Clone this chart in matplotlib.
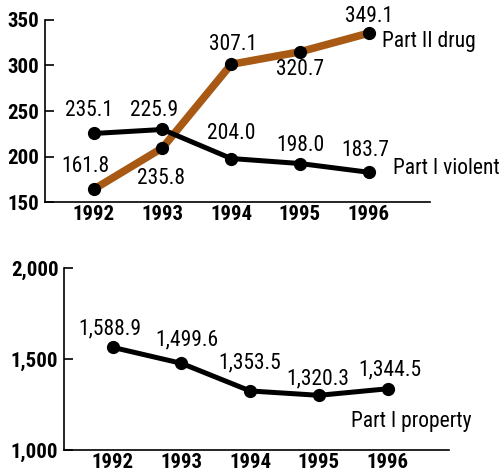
import matplotlib
matplotlib.use("Agg")
import matplotlib.pyplot as plt
from matplotlib import font_manager
from matplotlib.ticker import FuncFormatter

# data
years = [1992, 1993, 1994, 1995, 1996]
drug = [164, 209.5, 301.3, 315, 335.5]
drug_labels = ["161.8", "235.8", "307.1", "320.7", "349.1"]
violent = [225.3, 229.7, 197.8, 192.3, 182.7]
violent_labels = ["235.1", "225.9", "204.0", "198.0", "183.7"]
prop = [1565, 1477, 1325, 1301, 1337]
prop_labels = ["1,588.9", "1,499.6", "1,353.5", "1,320.3", "1,344.5"]

# label offsets in pixels (dx, dy)
drug_off = [(-8, 23), (-1, -31), (2, 20), (0, -18), (0, 17)]
violent_off = [(-5, 23), (-8, 19), (0, 25), (1, 18), (-3, 22)]
prop_off = [(-3, 18), (5, 23), (0, 28), (-1, 16), (2, 19)]

BROWN = "#A85A14"

# pick a narrow face if one is around
installed = {f.name for f in font_manager.fontManager.ttflist}
NARROW = None
for cand in ["Roboto Condensed", "Liberation Sans Narrow", "DejaVu Sans Condensed",
             "Open Sans Condensed", "Liberation Sans"]:
    if cand in installed:
        NARROW = [cand, "DejaVu Sans"]
        break
if NARROW is None:
    NARROW = ["DejaVu Sans"]

LABEL_FS = 15.5

fig = plt.figure(figsize=(5.01, 4.76), dpi=100)


def style_axes(ax, ylim, yticks, fmt):
    ax.set_xlim(1991.29, 1996.89)
    ax.set_ylim(*ylim)
    ax.set_yticks(yticks)
    ax.yaxis.set_major_formatter(FuncFormatter(fmt))
    ax.set_xticks(years)
    for s in ("top", "right"):
        ax.spines[s].set_visible(False)
    for s in ("left", "bottom"):
        ax.spines[s].set_linewidth(1.2)
    ax.tick_params(axis="y", direction="in", length=6.5, width=1.2, pad=4)
    ax.tick_params(axis="x", length=0, pad=2.5)
    for lab in ax.get_yticklabels():
        lab.set_fontfamily(NARROW)
        lab.set_fontweight("bold")
        lab.set_fontsize(15)
    for lab in ax.get_xticklabels():
        lab.set_fontfamily(NARROW)
        lab.set_fontweight("bold")
        lab.set_fontsize(15)


def put_labels(ax, ys, labels, offs):
    for x, y, t, (dx, dy) in zip(years, ys, labels, offs):
        ax.annotate(t, (x, y), xytext=(dx, dy), textcoords="offset pixels",
                    ha="center", va="center", fontsize=LABEL_FS, family=NARROW)


# top panel
ax1 = fig.add_axes([0.0898, 0.5756, 0.768, 0.3824])
ax1.plot(years, violent, color="black", lw=3.6, marker="o", ms=8.5,
         solid_capstyle="round", zorder=3)
ax1.plot(years, drug, color=BROWN, lw=5.5, solid_capstyle="round", zorder=2)
ax1.plot(years, drug, ls="none", marker="o", ms=8.5, color="black", zorder=4)
style_axes(ax1, (150, 350), [150, 200, 250, 300, 350], lambda v, p: "%d" % v)
put_labels(ax1, drug, drug_labels, drug_off)
put_labels(ax1, violent, violent_labels, violent_off)
ax1.annotate("Part II drug", (years[-1], drug[-1]), xytext=(13, -8),
             textcoords="offset pixels", ha="left", va="center",
             fontsize=LABEL_FS, family=NARROW)
ax1.annotate("Part I violent", (years[-1], violent[-1]), xytext=(24, 4),
             textcoords="offset pixels", ha="left", va="center",
             fontsize=LABEL_FS, family=NARROW, annotation_clip=False)

# bottom panel
ax2 = fig.add_axes([0.1277, 0.0546, 0.768, 0.3817])
ax2.plot(years, prop, color="black", lw=3.6, marker="o", ms=8.5,
         solid_capstyle="round")
style_axes(ax2, (1000, 2000), [1000, 1500, 2000],
           lambda v, p: "{:,.0f}".format(v))
put_labels(ax2, prop, prop_labels, prop_off)
ax2.annotate("Part I property", (years[-1], prop[-1]), xytext=(-37, -33),
             textcoords="offset pixels", ha="left", va="center",
             fontsize=LABEL_FS, family=NARROW)

fig.savefig("out.png", dpi=100)
